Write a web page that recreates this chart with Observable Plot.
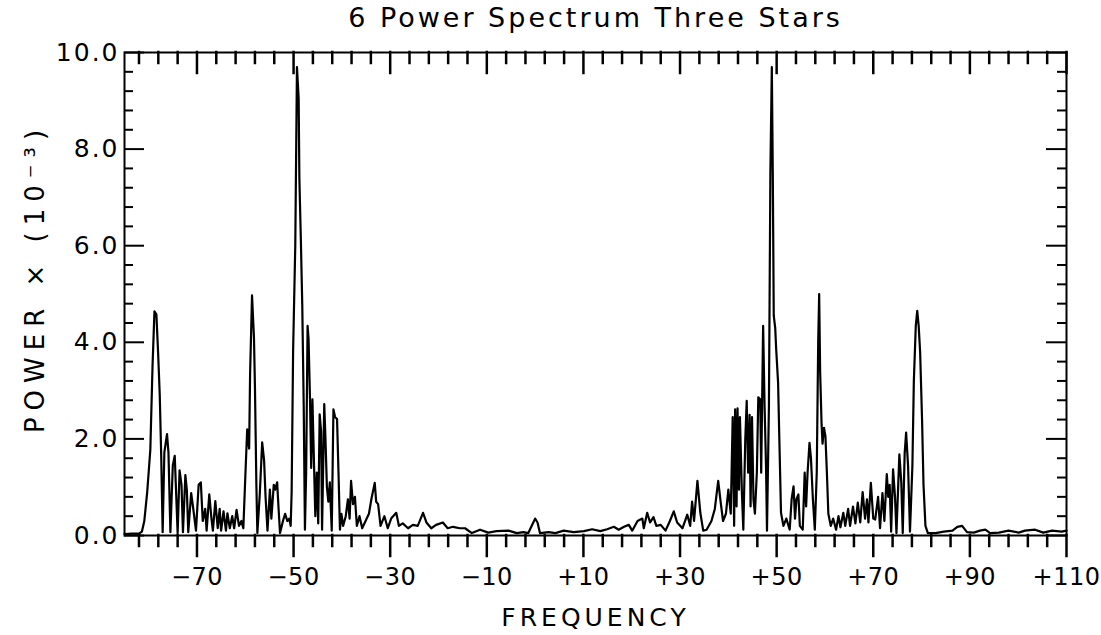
<!DOCTYPE html>
<html><head><meta charset="utf-8">
<script src="https://cdn.jsdelivr.net/npm/d3@7"></script>
<script src="https://cdn.jsdelivr.net/npm/@observablehq/plot@0.6"></script>
<style>
html,body{margin:0;padding:0;background:#fff;}
#chart svg{display:block;}
#chart g[aria-label="x-axis tick label"] text{letter-spacing:0.5px;font-size:24px;}
#chart g[aria-label="y-axis tick label"] text{letter-spacing:2px;}
</style></head><body><div id="chart"></div>
<script>
const title = "6 Power Spectrum Three Stars";
const xLabel = "FREQUENCY";
const yLabel = "POWER \u00d7 (10\u207b\u00b3)";

const freq = [-85,-83.5,-82,-81.4,-80.9,-80.3,-79.65,-79.2,-78.8,-78.4,-78.05,-77.7,-77.4,-77.1,-76.75,-76.2,-75.9,-75.5,-75.0,-74.6,-74.3,-74.0,-73.6,-73.2,-72.9,-72.4,-72.1,-71.8,-71.2,-70.8,-70.2,-69.65,-69.2,-68.8,-68.3,-68.0,-67.45,-67.0,-66.7,-66.2,-65.7,-65.3,-65.0,-64.5,-64.0,-63.7,-63.2,-62.7,-62.3,-61.8,-61.3,-60.8,-60.4,-59.9,-59.6,-59.2,-59.0,-58.6,-58.2,-58.0,-57.7,-57.5,-57.0,-56.5,-56.1,-55.8,-55.4,-54.9,-54.6,-54.1,-53.8,-53.4,-53.1,-52.8,-52.2,-51.75,-51.3,-50.9,-50.6,-50.4,-50.1,-49.65,-49.3,-48.95,-48.8,-48.5,-48.2,-47.9,-47.65,-47.4,-47.1,-46.9,-46.6,-46.35,-46.1,-45.8,-45.5,-45.2,-44.9,-44.6,-44.3,-44.1,-43.65,-43.4,-43.1,-42.8,-42.5,-42.1,-41.75,-41.4,-41.0,-40.7,-40.4,-40.1,-39.75,-39.2,-38.75,-38.4,-38.1,-37.7,-37.3,-36.9,-36.35,-35.8,-35.1,-34.4,-33.9,-33.2,-32.9,-32.5,-32.0,-31.2,-30.5,-29.8,-28.75,-28.2,-27.4,-26.3,-25.3,-24.3,-23.2,-22.5,-21.5,-20.5,-19.1,-18.1,-17.0,-15.6,-14.5,-13.1,-11.4,-9.7,-8.0,-5.5,-3.8,-2.4,-1.4,-0.7,0.0,0.5,1.0,2.8,4.2,5.9,8.0,10.1,11.8,13.5,14.9,16.3,17.3,18.4,19.4,20.1,21.2,22.2,22.5,23.2,23.8,24.5,25.1,26.0,27.0,27.9,28.7,29.4,30.5,31.5,32.1,32.5,32.9,33.6,34.2,34.8,35.5,36.5,37.2,37.9,38.4,38.9,39.5,40.0,40.5,40.9,41.2,41.4,41.7,41.9,42.2,42.4,42.8,43.1,43.5,43.8,44.1,44.4,44.6,44.9,45.2,45.5,45.9,46.2,46.6,46.8,47.2,47.5,47.8,48.0,48.4,48.7,49.0,49.2,49.4,49.7,49.9,50.3,50.6,50.9,51.4,52.0,52.7,53.1,53.5,53.8,54.1,54.5,54.8,55.4,55.8,56.1,56.4,56.8,57.1,57.5,57.9,58.3,58.6,58.8,59.0,59.3,59.5,59.8,60.1,60.4,60.7,61.2,61.7,62.3,62.8,63.2,63.8,64.2,64.8,65.2,65.8,66.3,66.8,67.3,67.8,68.3,68.7,69.0,69.5,70.0,70.4,71.0,71.4,71.9,72.3,72.8,73.1,73.4,73.7,74.1,74.5,74.8,75.4,75.8,76.1,76.5,76.8,77.2,77.6,78.1,78.4,78.8,79.1,79.4,79.7,80.1,80.4,80.8,81.3,82.9,84.6,86.4,87.4,88.4,89.4,90.8,92.1,93.2,94.2,96.0,98.0,100.1,101.4,103.5,105.2,107.0,109.0,110];

const power = [0.03,0.04,0.04,0.08,0.3,0.9,1.78,3.5,4.64,4.58,3.8,2.9,1.65,0.07,1.72,2.1,1.72,0.07,1.45,1.65,0.85,0.05,1.35,1.05,0.07,1.25,0.95,0.07,0.88,0.58,0.1,1.05,1.1,0.3,0.55,0.1,0.85,0.35,0.1,0.71,0.15,0.55,0.1,0.5,0.1,0.46,0.15,0.4,0.15,0.53,0.2,0.3,0.15,1.45,2.2,1.8,3.35,4.97,4.1,3.1,1.05,0.05,0.85,1.93,1.55,0.8,0.1,0.95,0.35,1.05,0.95,1.1,0.55,0.05,0.3,0.45,0.3,0.35,0.2,0.9,3.8,6.0,9.7,9.05,7.4,6.15,4.76,2.68,0.12,1.3,4.34,4.07,2.82,1.4,2.82,1.6,0.4,1.3,0.25,2.51,2.15,0.12,2.72,2.0,1.0,0.7,1.1,0.1,2.61,2.45,2.41,1.3,0.12,0.45,0.2,0.4,0.75,0.35,1.13,0.65,0.8,0.2,0.4,0.15,0.3,0.45,0.75,1.09,0.7,0.65,0.2,0.4,0.15,0.35,0.47,0.2,0.25,0.15,0.22,0.2,0.47,0.27,0.15,0.22,0.27,0.15,0.18,0.15,0.15,0.05,0.12,0.06,0.09,0.1,0.05,0.07,0.05,0.2,0.35,0.27,0.05,0.07,0.05,0.1,0.07,0.09,0.13,0.09,0.13,0.18,0.12,0.18,0.22,0.1,0.3,0.35,0.15,0.47,0.27,0.38,0.2,0.22,0.1,0.3,0.5,0.27,0.15,0.43,0.2,0.7,0.3,1.13,0.47,0.1,0.12,0.3,0.55,1.13,0.7,0.3,0.45,0.95,0.45,2.45,0.2,2.61,0.6,2.63,0.95,2.45,0.9,0.12,1.97,2.79,1.3,2.5,0.6,2.45,0.75,0.45,1.3,2.86,2.82,1.3,4.34,2.68,1.44,0.1,2.68,7.5,9.7,7.5,4.55,4.3,3.86,3.16,1.8,0.47,0.2,0.35,0.12,0.75,1.02,0.35,0.75,0.85,0.2,0.12,1.3,0.6,1.3,1.92,1.6,0.75,0.12,1.3,4.0,5.0,3.4,2.3,1.9,2.23,2.05,1.3,0.45,0.2,0.35,0.12,0.4,0.17,0.47,0.2,0.55,0.2,0.6,0.25,0.68,0.27,0.9,0.35,0.75,0.27,1.09,0.35,0.33,0.8,0.15,0.88,0.3,1.27,0.8,1.05,0.08,1.37,0.8,0.05,1.68,1.1,0.05,1.7,2.13,1.45,0.08,1.45,3.2,4.34,4.65,4.34,3.8,2.4,1.05,0.2,0.05,0.05,0.08,0.1,0.18,0.2,0.07,0.06,0.1,0.12,0.05,0.06,0.1,0.06,0.1,0.12,0.06,0.1,0.08,0.1];

const xDomain = [-85, 110];
const yDomain = [0, 10];
const xMajorTicks = [-70,-50,-30,-10,10,30,50,70,90,110];
const xMinorTicks = [-82,-78,-74,-66,-62,-58,-54,-46,-42,-38,-34,-26,-22,-18,-14,-6,-2,2,6,14,18,22,26,34,38,42,46,54,58,62,66,74,78,82,86,94,98,102,106];
const yMajorTicks = [0,2,4,6,8,10];
const yMinorTicks = [0.4,0.8,1.2,1.6,2.4,2.8,3.2,3.6,4.4,4.8,5.2,5.6,6.4,6.8,7.2,7.6,8.4,8.8,9.2,9.6];

const rows = freq.map((f, i) => ({f, p: power[i]}));
const xFmt = d => (d > 0 ? "+" : "\u2212") + Math.abs(d);
const yFmt = d => d.toFixed(1);

const minorLen = 11, majorLen = 21, yMinorLen = 9, yMajorLen = 20;
const [x0, x1] = xDomain, [y0, y1] = yDomain;
const tk = {strokeWidth: 2, stroke: "black"};
const xtk = {strokeWidth: 2.5, stroke: "black", strokeLinecap: "square"};

const chart = Plot.plot({
  width: 1101,
  height: 635,
  marginLeft: 124,
  marginRight: 35,
  marginTop: 52,
  marginBottom: 100,
  style: {fontFamily: "DejaVu Sans", fontSize: "25px", color: "black", background: "white"},
  x: {domain: xDomain},
  y: {domain: yDomain},
  marks: [
    Plot.line(rows, {x: "f", y: "p", stroke: "black", strokeWidth: 2.2, strokeLinejoin: "round"}),
    Plot.frame({stroke: "black", strokeWidth: 2}),
    // top ticks (inward)
    Plot.ruleX(xMinorTicks, {x: d => d, y1: y1, y2: y1, insetBottom: -minorLen, ...xtk}),
    Plot.ruleX(xMajorTicks, {x: d => d, y1: y1, y2: y1, insetBottom: -majorLen, ...xtk}),
    // bottom ticks (outward)
    Plot.ruleX(xMinorTicks, {x: d => d, y1: y0, y2: y0, insetBottom: -minorLen, ...xtk}),
    Plot.ruleX(xMajorTicks, {x: d => d, y1: y0, y2: y0, insetBottom: -majorLen, ...xtk}),
    // left ticks (inward)
    Plot.ruleY(yMinorTicks, {y: d => d, x1: x0, x2: x0, insetRight: -yMinorLen, ...tk}),
    Plot.ruleY(yMajorTicks, {y: d => d, x1: x0, x2: x0, insetRight: -yMajorLen, ...tk}),
    // right ticks (inward)
    Plot.ruleY(yMinorTicks, {y: d => d, x1: x1, x2: x1, insetLeft: -yMinorLen, ...tk}),
    Plot.ruleY(yMajorTicks, {y: d => d, x1: x1, x2: x1, insetLeft: -yMajorLen, ...tk}),
    Plot.axisX({anchor: "bottom", ticks: xMajorTicks, tickSize: 0, tickPadding: 32, tickFormat: xFmt, label: null}),
    Plot.axisY({anchor: "left", ticks: yMajorTicks, tickSize: 0, tickPadding: 5, tickFormat: yFmt, label: null}),
    Plot.text([title], {frameAnchor: "top", lineAnchor: "middle", dy: -34, fontSize: 27}),
    Plot.text([xLabel], {frameAnchor: "bottom", lineAnchor: "middle", dy: 82, fontSize: 25}),
    Plot.text([yLabel], {frameAnchor: "left", lineAnchor: "middle", textAnchor: "middle", rotate: -90, dx: -89, dy: -16, fontSize: 26})
  ]
});
const spacing = {[title]: "3px", [xLabel]: "4px", [yLabel]: "7px"};
d3.select(chart).selectAll('g[aria-label="text"] text').each(function() {
  const s = spacing[this.textContent];
  if (s) this.style.letterSpacing = s;
});
document.getElementById("chart").appendChild(chart);
</script></body></html>
